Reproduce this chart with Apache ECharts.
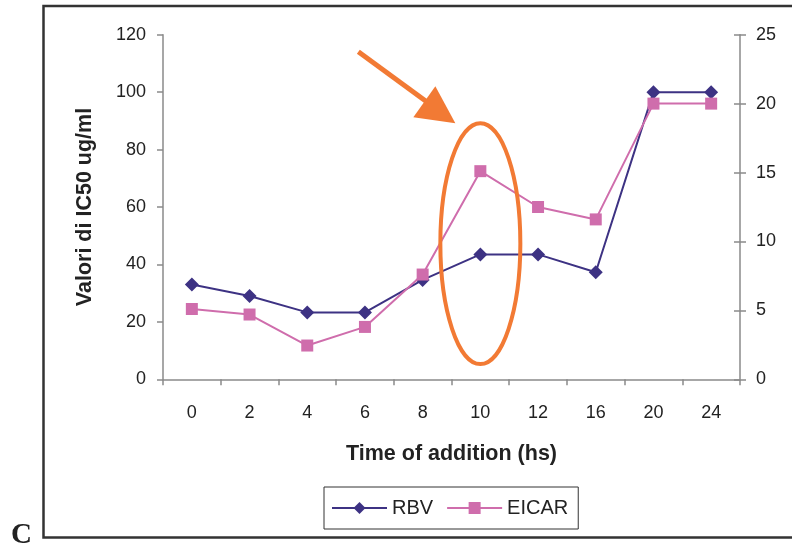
<!DOCTYPE html>
<html>
<head>
<meta charset="utf-8">
<script src="https://cdn.jsdelivr.net/npm/echarts@6/dist/echarts.min.js"></script>
<style>
  html, body { margin: 0; padding: 0; background: #ffffff; }
  #chart { width: 792px; height: 550px; }
</style>
</head>
<body>
<div id="chart"></div>
<script>
// Time points (hours) at which the compound was added
const hours = ['0', '2', '4', '6', '8', '10', '12', '16', '20', '24'];
// IC50 values, RBV on the left scale
const rbv = [33, 29, 23.3, 23.3, 34.6, 43.5, 43.5, 37.3, 100, 100];
// IC50 values, EICAR on the right scale
const eicar = [5.1, 4.7, 2.45, 3.8, 7.6, 15.1, 12.5, 11.6, 20, 20];

// Axis ranges
const leftMax = 120, leftStep = 20;
const rightMax = 25, rightStep = 5;

const textColor = '#222222';
const axisColor = '#8a8a8a';
const fontFam = '"Liberation Sans", Arial, sans-serif';

const chart = echarts.init(document.getElementById('chart'), null, { renderer: 'canvas' });

const option = {
  backgroundColor: '#ffffff',
  animation: false,
  grid: { left: 163, right: 52, top: 34.7, bottom: 170.7, containLabel: false },
  legend: {
    left: 324, top: 487,
    orient: 'horizontal',
    itemWidth: 55, itemHeight: 15, itemGap: 13,
    padding: [11, 10, 11, 7],
    borderColor: '#333333', borderWidth: 1,
    textStyle: { fontFamily: fontFam, fontSize: 20, color: textColor },
    data: ['RBV', 'EICAR']
  },
  xAxis: {
    type: 'category',
    data: hours,
    boundaryGap: true,
    name: 'Time of addition (hs)',
    nameLocation: 'middle',
    nameGap: 64,
    nameTextStyle: { fontFamily: fontFam, fontSize: 21.5, fontWeight: 'bold', color: textColor, verticalAlign: 'top' },
    axisLine: { lineStyle: { color: axisColor, width: 1.5 } },
    axisTick: { show: true, inside: false, length: 6, lineStyle: { color: axisColor, width: 1.5 } },
    axisLabel: { fontFamily: fontFam, fontSize: 18, color: textColor, margin: 25 },
    splitLine: { show: false }
  },
  yAxis: [
    {
      type: 'value',
      position: 'left',
      min: 0, max: leftMax, interval: leftStep,
      name: 'Valori di IC50 ug/ml',
      nameLocation: 'middle',
      nameRotate: 90,
      nameGap: 67,
      nameTextStyle: { fontFamily: fontFam, fontSize: 21.5, fontWeight: 'bold', color: textColor },
      axisLine: { show: true, lineStyle: { color: axisColor, width: 1.5 } },
      axisTick: { show: true, inside: false, length: 6, lineStyle: { color: axisColor, width: 1.5 } },
      axisLabel: { fontFamily: fontFam, fontSize: 18, color: textColor, margin: 17 },
      splitLine: { show: false }
    },
    {
      type: 'value',
      position: 'right',
      min: 0, max: rightMax, interval: rightStep,
      axisLine: { show: true, lineStyle: { color: axisColor, width: 1.5 } },
      axisTick: { show: true, inside: false, length: 6, lineStyle: { color: axisColor, width: 1.5 } },
      axisLabel: { fontFamily: fontFam, fontSize: 18, color: textColor, margin: 16 },
      splitLine: { show: false }
    },
    {
      // inner half of the crossing ticks on the right scale
      type: 'value',
      position: 'right',
      min: 0, max: rightMax, interval: rightStep,
      axisLine: { show: false },
      axisTick: { show: true, inside: true, length: 6, lineStyle: { color: axisColor, width: 1.5 } },
      axisLabel: { show: false },
      splitLine: { show: false }
    }
  ],
  series: [
    {
      name: 'RBV',
      type: 'line',
      yAxisIndex: 0,
      data: rbv,
      symbol: 'diamond',
      symbolSize: 14,
      color: '#3d3283',
      lineStyle: { color: '#3d3283', width: 2 },
      itemStyle: { color: '#3d3283' },
      z: 3
    },
    {
      name: 'EICAR',
      type: 'line',
      yAxisIndex: 1,
      data: eicar,
      symbol: 'rect',
      symbolSize: 12,
      color: '#cf6dac',
      lineStyle: { color: '#cf6dac', width: 2 },
      itemStyle: { color: '#cf6dac' },
      z: 4
    }
  ]
};

chart.setOption(option);

// Annotation: orange ellipse around the 10 h point with an arrow pointing at it
const cx = chart.convertToPixel({ xAxisIndex: 0 }, '10');
const ellTop = chart.convertToPixel({ yAxisIndex: 0 }, 89.2);
const ellBot = chart.convertToPixel({ yAxisIndex: 0 }, 5.3);
const cy = (ellTop + ellBot) / 2;
const ry = (ellBot - ellTop) / 2;
const rx = 40;
const orange = '#f27a34';
const tipX = cx - 25, tipY = ellTop;

chart.setOption({
  graphic: [
    {
      // outer frame of the panel
      type: 'polyline',
      shape: { points: [[800, 6], [43.5, 6], [43.5, 537.5], [800, 537.5]] },
      style: { stroke: '#333333', lineWidth: 2.5, fill: null },
      silent: true, z: 1
    },
    {
      type: 'text',
      left: 11, top: 521,
      style: { text: 'C', font: 'bold 29px "Liberation Serif", "Times New Roman", serif', fill: '#222222' },
      silent: true
    },
    {
      type: 'ellipse',
      shape: { cx: cx, cy: cy, rx: rx, ry: ry },
      style: { stroke: orange, lineWidth: 4, fill: null },
      silent: true, z: 10
    },
    {
      type: 'line',
      shape: { x1: tipX - 97, y1: tipY - 71.5, x2: tipX - 28, y2: tipY - 21 },
      style: { stroke: orange, lineWidth: 5 },
      silent: true, z: 10
    },
    {
      type: 'polygon',
      shape: { points: [[tipX, tipY], [tipX - 20, tipY - 37], [tipX - 42, tipY - 6]] },
      style: { fill: orange },
      silent: true, z: 10
    }
  ]
});
</script>
</body>
</html>
